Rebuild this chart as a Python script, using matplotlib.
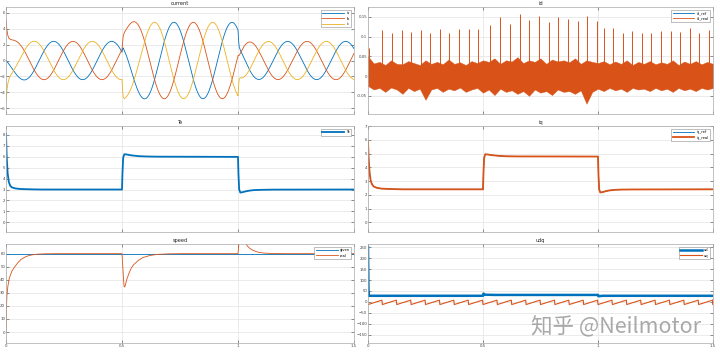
import numpy as np
import matplotlib
matplotlib.use('Agg')
import matplotlib.pyplot as plt

# ---------------- data ----------------
# speed (rpm): given and real
spd_given = 60.0
spd_t = [0, 0.002, 0.004, 0.008, 0.014, 0.025, 0.036, 0.05, 0.064, 0.08, 0.093, 0.11, 0.135, 0.17, 0.22,
         0.5, 0.503, 0.506, 0.509, 0.512, 0.516, 0.52, 0.53, 0.54, 0.55, 0.57, 0.59, 0.62, 0.65, 0.7, 0.75,
         1.0, 1.003, 1.006, 1.009, 1.012, 1.016, 1.02, 1.03, 1.04, 1.05, 1.06, 1.075, 1.09, 1.11, 1.14, 1.2, 1.5]
spd_v = [0, 18, 28, 35, 41, 46.5, 49.5, 52.8, 55.5, 57.2, 58.2, 59.0, 59.6, 59.9, 60,
         60, 51, 42, 35, 34.5, 37, 40, 45, 49, 51.5, 54.8, 57, 58.6, 59.4, 59.85, 60,
         60, 66, 72, 76, 76.5, 75, 73, 69, 66, 64.2, 63, 61.8, 61, 60.5, 60.15, 60, 60]

# iq reference / real (A)
iq_t = [0, 0.003, 0.007, 0.012, 0.018, 0.025, 0.04, 0.06, 0.1, 0.15, 0.5, 0.502, 0.505, 0.51, 0.52, 0.54,
        0.57, 0.6, 0.65, 1.0, 1.002, 1.005, 1.01, 1.02, 1.035, 1.05, 1.07, 1.1, 1.15, 1.5]
iq_v = [5.9, 4.6, 3.6, 3.0, 2.75, 2.6, 2.5, 2.45, 2.42, 2.4, 2.4, 3.6, 4.7, 4.95, 4.93, 4.88,
        4.83, 4.8, 4.79, 4.78, 3.5, 2.4, 2.17, 2.2, 2.27, 2.32, 2.36, 2.38, 2.39, 2.4]

# electromagnetic torque Te
te_t = iq_t
te_v = [8.1, 6.0, 4.5, 3.7, 3.35, 3.2, 3.1, 3.05, 3.02, 3.0, 3.0, 4.5, 5.9, 6.22, 6.2, 6.12,
        6.05, 6.02, 6.0, 5.98, 4.4, 3.0, 2.72, 2.76, 2.84, 2.9, 2.95, 2.97, 2.99, 3.0]

# phase-current model parameters (pole pairs, phase of ia)
pole_pairs = 4
phase_names = ['ia', 'ib', 'ic']
phase_shift = [np.pi / 2, np.pi / 2 - 2 * np.pi / 3, np.pi / 2 + 2 * np.pi / 3]

# id: noise band envelope (every 0.025 s) and spikes
id_env_t = list(np.round(np.arange(0, 1.5001, 0.025), 3))
id_upper = [0.05, 0.032, 0.036, 0.028, 0.040, 0.031, 0.030, 0.038, 0.033, 0.028, 0.040, 0.031, 0.036, 0.030,
            0.042, 0.031, 0.035, 0.028, 0.038, 0.033, 0.040, 0.036, 0.045, 0.031, 0.040, 0.037, 0.048, 0.033,
            0.040, 0.036, 0.045, 0.031, 0.042, 0.037, 0.040, 0.035, 0.045, 0.031, 0.040, 0.036, 0.033, 0.038,
            0.030, 0.037, 0.031, 0.040, 0.028, 0.036, 0.031, 0.038, 0.030, 0.035, 0.031, 0.040, 0.028, 0.037,
            0.031, 0.038, 0.030, 0.036, 0.031]
id_lower = [-0.025, -0.034, -0.030, -0.040, -0.029, -0.034, -0.045, -0.030, -0.038, -0.032, -0.060, -0.034,
            -0.030, -0.040, -0.032, -0.036, -0.029, -0.040, -0.034, -0.030, -0.042, -0.034, -0.048, -0.032,
            -0.040, -0.036, -0.045, -0.038, -0.050, -0.034, -0.042, -0.038, -0.048, -0.034, -0.040, -0.038,
            -0.045, -0.036, -0.070, -0.040, -0.032, -0.038, -0.030, -0.036, -0.032, -0.040, -0.030, -0.034,
            -0.032, -0.038, -0.030, -0.036, -0.032, -0.040, -0.030, -0.036, -0.032, -0.038, -0.030, -0.034, -0.03]
id_spike_t = [0.004, 0.062, 0.104, 0.146, 0.187, 0.229, 0.271, 0.313, 0.353, 0.396, 0.438, 0.480,
              0.529, 0.575, 0.618, 0.660, 0.702, 0.744, 0.785, 0.827, 0.869, 0.911, 0.952, 0.994,
              1.024, 1.066, 1.107, 1.148, 1.190, 1.232, 1.274, 1.316, 1.357, 1.399, 1.441, 1.483]
id_spike_v = [0.07, 0.117, 0.110, 0.117, 0.111, 0.117, 0.110, 0.120, 0.110, 0.119, 0.120, 0.119,
              0.130, 0.149, 0.132, 0.158, 0.142, 0.152, 0.136, 0.149, 0.144, 0.140, 0.151, 0.140,
              0.121, 0.121, 0.110, 0.113, 0.108, 0.108, 0.113, 0.113, 0.111, 0.121, 0.108, 0.117]

# udq: first (blue) trace and sawtooth (orange) trace
u1_t = [0, 0.002, 0.004, 0.5, 0.502, 0.51, 0.55, 1.0, 1.002, 1.02, 1.5]
u1_v = [250, 60, 28, 28, 38, 33, 32, 32, 26, 28, 28]
saw_period = 0.0625
saw_lo, saw_hi = -12, 8
udq_names = ['ud', 'uq']

# ---------------- signals ----------------
t = np.linspace(0, 1.5, 6001)
spd = np.interp(t, spd_t, spd_v)
theta = 2 * np.pi * pole_pairs / 60.0 * np.concatenate([[0], np.cumsum((spd[1:] + spd[:-1]) / 2 * np.diff(t))])
amp = np.interp(t, iq_t, iq_v)
currents = [amp * np.cos(theta + s) for s in phase_shift]

saw_t = []
saw_v = []
k = 0.0
while k < 1.5 + 1e-9:
    saw_t += [k, min(k + saw_period * 0.97, 1.5)]
    saw_v += [saw_lo, saw_hi]
    k += saw_period

# ---------------- figure ----------------
C_BLUE, C_OR, C_YEL = '#0072BD', '#D95319', '#EDB120'
fig = plt.figure(figsize=(7.2, 3.56), dpi=100)
colx = [(6 / 720, 348 / 720), (368 / 720, 345 / 720)]
rowy = [(1 - 114 / 356, 107 / 356), (1 - 232 / 356, 106 / 356), (1 - 343 / 356, 99 / 356)]

FS = 2.8


def make_ax(r, c, title, ylim, yticks, yticklabels=None, xlabels=False):
    ax = fig.add_axes([colx[c][0], rowy[r][0], colx[c][1], rowy[r][1]])
    ax.set_xlim(0, 1.5)
    ax.set_ylim(*ylim)
    ax.set_xticks([0, 0.5, 1, 1.5])
    ax.set_yticks(yticks)
    if yticklabels is not None:
        ax.set_yticklabels(yticklabels)
    if xlabels:
        ax.set_xticklabels(['0', '0.5', '1', '1.5'])
    else:
        ax.set_xticklabels([])
    ax.tick_params(direction='in', length=2, width=0.4, labelsize=FS, pad=0.6, colors='#404040',
                   top=True, right=True)
    for sp in ax.spines.values():
        sp.set_color('#a8a8a8')
        sp.set_linewidth(0.5)
    ax.grid(True, color='#e3e3e3', linewidth=0.5)
    ax.set_axisbelow(True)
    ax.set_title(title, fontsize=3.6, pad=1.5, color='#202020')
    return ax


def legend(ax, **kw):
    lg = ax.legend(loc='upper right', fontsize=2.6, handlelength=6, handletextpad=0.6, borderpad=0.4,
                   labelspacing=0.35, fancybox=False, framealpha=1, edgecolor='#8c8c8c',
                   borderaxespad=0.8, **kw)
    lg.get_frame().set_linewidth(0.4)
    return lg


# current
ax = make_ax(0, 0, 'current', (-6.7, 6.7), [-6, -4, -2, 0, 2, 4, 6])
for y, col, nm in zip(currents, [C_BLUE, C_OR, C_YEL], phase_names):
    ax.plot(t, y, color=col, lw=0.6, label=nm)
legend(ax)

# id
ax = make_ax(0, 1, 'id', (-0.096, 0.175), [-0.05, 0, 0.05, 0.1, 0.15], ['-0.05', '0', '0.05', '0.1', '0.15'])
ax.plot([0, 1.5], [0, 0], color=C_BLUE, lw=0.6, label='id_ref', zorder=1)
ax.fill_between(id_env_t, id_lower, id_upper, color=C_OR, lw=0.3, edgecolor=C_OR, zorder=2)
ax.vlines(id_spike_t, 0, id_spike_v, color=C_OR, lw=0.7, zorder=2)
ax.plot([], [], color=C_OR, lw=0.6, label='id_real')
legend(ax)

# Te
ax = make_ax(1, 0, 'Te', (-0.88, 8.8), list(range(0, 9)))
ax.plot(te_t, te_v, color=C_BLUE, lw=1.3, label='Te')
legend(ax)

# iq
ax = make_ax(1, 1, 'iq', (-0.7, 7.0), list(range(0, 8)))
ax.plot(iq_t, iq_v, color=C_BLUE, lw=0.6, label='iq_ref')
ax.plot(iq_t, iq_v, color=C_OR, lw=1.3, label='iq_real')
legend(ax)

# speed
ax = make_ax(2, 0, 'speed', (-8.4, 67.4), [0, 10, 20, 30, 40, 50, 60], xlabels=True)
ax.plot([0, 1.5], [spd_given, spd_given], color=C_BLUE, lw=0.6, label='given')
ax.plot(spd_t, spd_v, color=C_OR, lw=0.6, label='real')
legend(ax)

# udq
ax = make_ax(2, 1, 'udq', (-188, 265), [-150, -100, -50, 0, 50, 100, 150, 200, 250], xlabels=True)
ax.plot(u1_t, u1_v, color=C_BLUE, lw=1.8, label=udq_names[0])
ax.plot(saw_t, saw_v, color=C_OR, lw=0.8, label=udq_names[1])
legend(ax)

fig.text(0.855, 0.081, '知乎 @Neilmotor', fontsize=15.5, color='#9a9a9a', alpha=0.85,
         family=['Noto Sans CJK SC', 'DejaVu Sans'], ha='center', va='center')

fig.savefig('out.png', dpi=100)
